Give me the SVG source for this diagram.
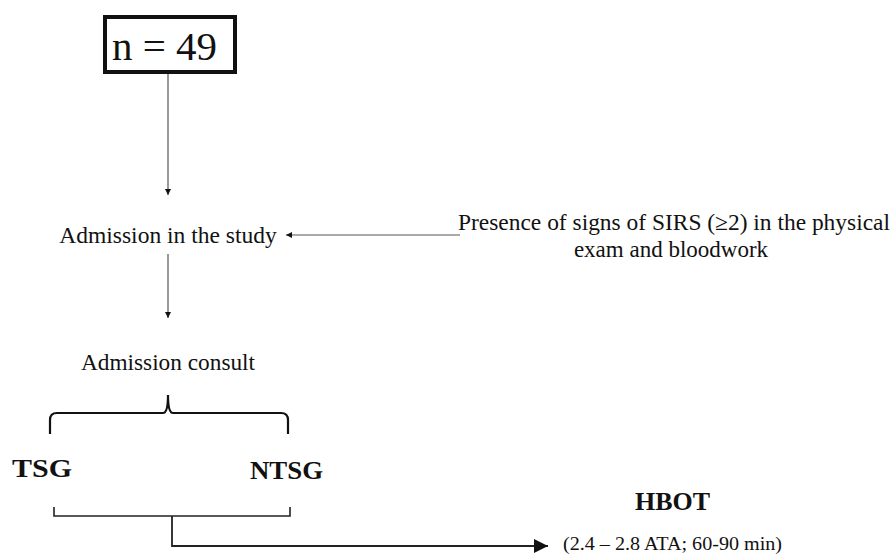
<svg xmlns="http://www.w3.org/2000/svg" width="894" height="554" viewBox="0 0 894 554">
<defs>
<style>
.t{font-family:"Liberation Serif","Times New Roman",serif;fill:#111}
.b{font-family:"Liberation Serif","Times New Roman",serif;font-weight:bold;fill:#111}
.thin{stroke:#555;stroke-width:1.2;fill:none}
.brk{stroke:#111;stroke-width:2.2;fill:none}
.dk{stroke:#222;fill:none}
</style>
<marker id="sa" viewBox="0 0 10 10" refX="10" refY="5" markerWidth="6" markerHeight="6" markerUnits="userSpaceOnUse" orient="auto"><path d="M0,0 L10,5 L0,10 z" fill="#111"/></marker>
<marker id="la" viewBox="0 0 10 10" refX="10" refY="5" markerWidth="16" markerHeight="14" markerUnits="userSpaceOnUse" orient="auto"><path d="M0,0 L10,5 L0,10 z" fill="#111"/></marker>
</defs>
<rect width="894" height="554" fill="#fff"/>
<g id="n49">
<rect x="105" y="17" width="130" height="55" fill="#fff" stroke="#111" stroke-width="4"/>
<text class="t" x="112" y="60" font-size="39" textLength="105" lengthAdjust="spacingAndGlyphs">n = 49</text>
</g>
<g id="admission-study">
<text class="t" x="168" y="243" font-size="23.5" text-anchor="middle">Admission in the study</text>
</g>
<g id="sirs">
<text class="t" x="674" y="230" font-size="23" text-anchor="middle" textLength="432" lengthAdjust="spacingAndGlyphs">Presence of signs of SIRS (≥2) in the physical</text>
<text class="t" x="671" y="257" font-size="23" text-anchor="middle">exam and bloodwork</text>
</g>
<g id="admission-consult">
<text class="t" x="168" y="370" font-size="23.3" text-anchor="middle">Admission consult</text>
</g>
<g id="tsg">
<text class="b" x="12" y="477" font-size="26" textLength="60" lengthAdjust="spacingAndGlyphs">TSG</text>
</g>
<g id="ntsg">
<text class="b" x="250" y="479" font-size="26" textLength="73" lengthAdjust="spacingAndGlyphs">NTSG</text>
</g>
<g id="hbot">
<text class="b" x="635" y="510" font-size="26" textLength="75" lengthAdjust="spacingAndGlyphs">HBOT</text>
<text class="t" x="563" y="550" font-size="18" textLength="219" lengthAdjust="spacingAndGlyphs">(2.4 – 2.8 ATA; 60-90 min)</text>
</g>
<g id="connectors">
<line class="thin" x1="168" y1="74" x2="168" y2="195" marker-end="url(#sa)"/>
<line class="thin" x1="460" y1="235" x2="286" y2="235" marker-end="url(#sa)"/>
<line class="thin" x1="168" y1="254" x2="168" y2="318" marker-end="url(#sa)"/>
<path class="brk" d="M50,434 L50,420 Q50,413 57,413 L163,413 Q168,413 168,395 Q168,413 173,413 L281,413 Q288,413 288,420 L288,434"/>
<path class="dk" stroke-width="1.6" d="M54,507 L54,516 L290,516 L290,507"/>
<path class="dk" stroke-width="1.8" d="M172,516 L172,546 L548,546" marker-end="url(#la)"/>
</g>
</svg>
